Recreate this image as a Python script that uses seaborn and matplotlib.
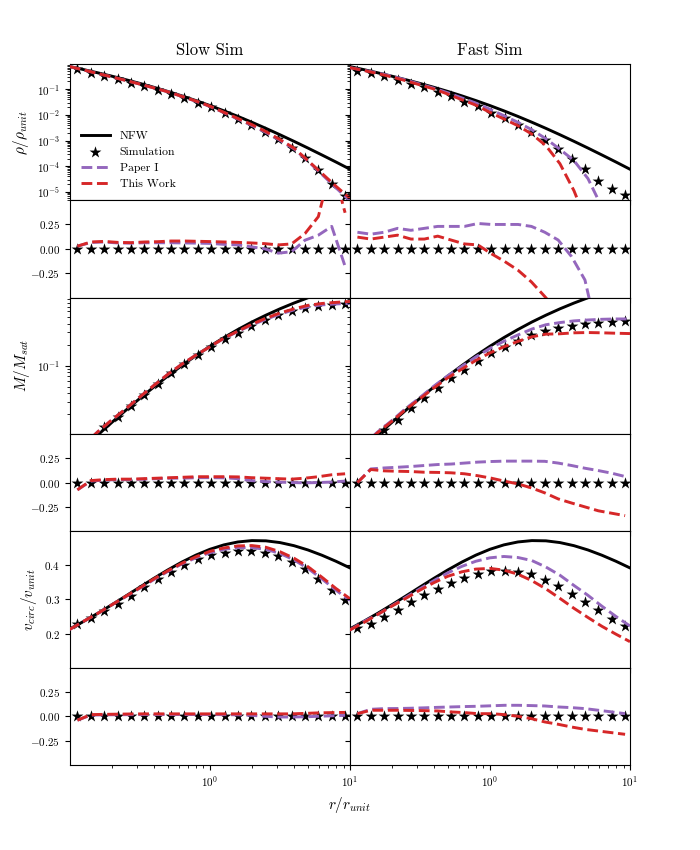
import numpy as np
import matplotlib
matplotlib.use("Agg")
import matplotlib.pyplot as plt
import seaborn as sns

plt.rcParams["font.family"] = "serif"
plt.rcParams["font.serif"] = ["cmr10"]
plt.rcParams["mathtext.fontset"] = "cm"
plt.rcParams["axes.formatter.use_mathtext"] = True

# radii: fine grid for the model curves, bin centres for the simulation
r_grid = [0.1, 0.1259, 0.1585, 0.1995, 0.2512, 0.3162, 0.3981, 0.5012, 0.631, 0.7943, 1.0,
          1.2589, 1.5849, 1.9953, 2.5119, 3.1623, 3.9811, 5.0119, 6.3096, 7.9433, 10.0]
r_sim = [0.1135, 0.1414, 0.1762, 0.2195, 0.2735, 0.3408, 0.4246, 0.5291, 0.6592, 0.8214, 1.0233,
         1.2752, 1.5888, 1.9797, 2.466, 3.0731, 3.8282, 4.7698, 5.9429, 7.4047, 9.2257]
sim_res = [0.0] * len(r_sim)

# NFW (same in both runs), log10 for rho and M
nfw_rho_log = [-0.117, -0.237, -0.361, -0.492, -0.629, -0.773, -0.925, -1.087, -1.259, -1.442, -1.636,
               -1.842, -2.059, -2.287, -2.525, -2.773, -3.029, -3.292, -3.562, -3.836, -4.117]
nfw_mass_log = [-2.366, -2.178, -1.996, -1.816, -1.641, -1.471, -1.307, -1.149, -0.999, -0.857, -0.723,
                -0.598, -0.482, -0.374, -0.276, -0.185, -0.102, -0.026, 0.043, 0.106, 0.164]
nfw_vcirc = [0.2133, 0.2357, 0.2593, 0.2842, 0.3099, 0.336, 0.3617, 0.3865, 0.4095, 0.4299, 0.447,
             0.46, 0.4686, 0.4726, 0.4719, 0.4668, 0.4577, 0.4451, 0.4296, 0.4119, 0.3924]

# ---- Slow Sim ----
slow_rho_sim = [-0.22, -0.35, -0.48, -0.61, -0.74, -0.87, -1.02, -1.17, -1.35, -1.52, -1.71,
                -1.94, -2.17, -2.40, -2.66, -2.95, -3.28, -3.67, -4.16, -4.71, -5.17]
slow_rho_paper1 = [-0.12, -0.25, -0.39, -0.52, -0.66, -0.80, -0.95, -1.10, -1.28, -1.47, -1.67,
                   -1.91, -2.16, -2.41, -2.68, -2.99, -3.32, -3.80, -4.32, -4.84, -5.35]
slow_rho_this = [-0.12, -0.25, -0.39, -0.52, -0.66, -0.80, -0.95, -1.10, -1.28, -1.46, -1.66,
                 -1.90, -2.14, -2.38, -2.65, -2.96, -3.29, -3.78, -4.28, -4.78, -5.25]
slow_rho_res_paper1 = [0.027, 0.065, 0.07, 0.06, 0.058, 0.062, 0.062, 0.062, 0.06, 0.058, 0.055,
                       0.045, 0.04, 0.02, 0.0, -0.045, -0.03, 0.088, 0.14, 0.23, -0.18]
slow_rho_res_this = [0.027, 0.07, 0.076, 0.066, 0.063, 0.07, 0.073, 0.08, 0.08, 0.077, 0.074,
                     0.07, 0.066, 0.06, 0.053, 0.04, 0.05, 0.156, 0.33, 0.88, 0.37]

slow_mass_sim = [-2.24, -2.06, -1.88, -1.74, -1.58, -1.42, -1.26, -1.11, -0.976, -0.852, -0.738,
                 -0.623, -0.527, -0.431, -0.350, -0.276, -0.215, -0.170, -0.142, -0.126, -0.116]
slow_mass_paper1 = [-2.35, -2.14, -1.95, -1.78, -1.62, -1.45, -1.285, -1.125, -0.98, -0.85, -0.73,
                    -0.61, -0.51, -0.415, -0.335, -0.26, -0.20, -0.155, -0.128, -0.115, -0.105]
slow_mass_this = [-2.35, -2.14, -1.95, -1.78, -1.62, -1.45, -1.285, -1.125, -0.98, -0.85, -0.73,
                  -0.605, -0.505, -0.405, -0.32, -0.245, -0.185, -0.135, -0.108, -0.092, -0.078]
slow_mass_res_paper1 = [-0.075, 0.015, 0.025, 0.03, 0.03, 0.035, 0.04, 0.045, 0.045, 0.05, 0.05,
                        0.048, 0.04, 0.02, 0.01, 0.005, 0.0, -0.003, 0.0, 0.005, 0.015]
slow_mass_res_this = [-0.075, 0.02, 0.03, 0.035, 0.035, 0.04, 0.045, 0.05, 0.055, 0.06, 0.06,
                      0.06, 0.058, 0.05, 0.045, 0.04, 0.035, 0.045, 0.06, 0.08, 0.09]

slow_v_sim = [0.227, 0.245, 0.265, 0.288, 0.310, 0.337, 0.359, 0.380, 0.400, 0.4175, 0.431,
              0.437, 0.442, 0.441, 0.436, 0.426, 0.41, 0.388, 0.359, 0.327, 0.298]
slow_v_paper1 = [0.212, 0.236, 0.259, 0.284, 0.308, 0.333, 0.358, 0.382, 0.404, 0.422, 0.437,
                 0.447, 0.452, 0.452, 0.447, 0.435, 0.416, 0.391, 0.360, 0.327, 0.297]
slow_v_this = [0.212, 0.236, 0.259, 0.284, 0.309, 0.334, 0.360, 0.384, 0.406, 0.425, 0.441,
               0.451, 0.457, 0.458, 0.453, 0.440, 0.421, 0.396, 0.365, 0.332, 0.302]
slow_v_res_paper1 = [-0.04, 0.012, 0.015, 0.016, 0.017, 0.018, 0.018, 0.018, 0.018, 0.018, 0.018,
                     0.017, 0.015, 0.01, 0.0, -0.007, -0.007, -0.005, 0.0, 0.005, 0.01]
slow_v_res_this = [-0.04, 0.017, 0.02, 0.022, 0.024, 0.025, 0.025, 0.025, 0.025, 0.025, 0.025,
                   0.025, 0.025, 0.025, 0.025, 0.025, 0.025, 0.03, 0.035, 0.038, 0.04]

# ---- Fast Sim ----
fast_rho_sim = [-0.28, -0.37, -0.50, -0.63, -0.78, -0.93, -1.09, -1.28, -1.48, -1.67, -1.91,
                -2.14, -2.39, -2.66, -2.98, -3.34, -3.73, -4.12, -4.58, -4.90, -5.13]
fast_rho_paper1 = [-0.16, -0.26, -0.37, -0.49, -0.64, -0.80, -0.96, -1.14, -1.34, -1.54, -1.78,
                   -2.03, -2.29, -2.58, -2.93, -3.34, -3.78, -4.48, -5.6, -7.0, -8.5]
fast_rho_this = [-0.16, -0.27, -0.39, -0.52, -0.67, -0.83, -0.99, -1.19, -1.41, -1.62, -1.90,
                 -2.16, -2.42, -2.75, -3.20, -3.90, -4.95, -6.3, -7.5, -9.0, -10.0]
fast_rho_res_paper1 = [0.17, 0.15, 0.17, 0.21, 0.19, 0.21, 0.23, 0.23, 0.23, 0.26, 0.25,
                       0.25, 0.25, 0.23, 0.17, 0.09, -0.08, -0.32, -0.92, -0.99, -1.0]
fast_rho_res_this = [0.12, 0.10, 0.12, 0.14, 0.10, 0.10, 0.13, 0.09, 0.05, 0.04, -0.05,
                     -0.13, -0.22, -0.34, -0.49, -0.65, -0.80, -0.92, -0.98, -1.0, -1.0]

fast_mass_sim = [-2.28, -2.10, -1.924, -1.781, -1.614, -1.470, -1.327, -1.184, -1.064, -0.936, -0.825,
                 -0.731, -0.645, -0.563, -0.501, -0.467, -0.434, -0.405, -0.381, -0.373, -0.362]
fast_mass_paper1 = [-2.32, -2.135, -1.95, -1.79, -1.615, -1.46, -1.295, -1.145, -1.01, -0.875, -0.753,
                    -0.651, -0.560, -0.475, -0.413, -0.382, -0.358, -0.345, -0.335, -0.33, -0.33]
fast_mass_this = [-2.33, -2.145, -1.96, -1.80, -1.628, -1.477, -1.32, -1.175, -1.05, -0.925, -0.818,
                  -0.73, -0.652, -0.586, -0.548, -0.543, -0.529, -0.525, -0.529, -0.535, -0.54]
fast_mass_res_paper1 = [0.0, 0.14, 0.15, 0.157, 0.165, 0.175, 0.185, 0.19, 0.2, 0.21, 0.216,
                        0.22, 0.22, 0.22, 0.218, 0.2, 0.175, 0.147, 0.123, 0.096, 0.062]
fast_mass_res_this = [0.0, 0.134, 0.12, 0.116, 0.113, 0.106, 0.104, 0.10, 0.09, 0.07, 0.045,
                      0.014, -0.014, -0.055, -0.106, -0.168, -0.21, -0.25, -0.29, -0.315, -0.34]

fast_v_sim = [0.215, 0.2275, 0.249, 0.270, 0.293, 0.312, 0.332, 0.349, 0.364, 0.376, 0.3825,
              0.383, 0.380, 0.374, 0.358, 0.340, 0.317, 0.293, 0.268, 0.244, 0.222]
fast_v_paper1 = [0.210, 0.235, 0.256, 0.281, 0.306, 0.331, 0.355, 0.378, 0.397, 0.412, 0.422,
                 0.426, 0.423, 0.414, 0.395, 0.371, 0.341, 0.312, 0.280, 0.250, 0.222]
fast_v_this = [0.210, 0.232, 0.256, 0.280, 0.303, 0.327, 0.349, 0.368, 0.381, 0.389, 0.391,
               0.386, 0.374, 0.355, 0.331, 0.303, 0.274, 0.247, 0.221, 0.198, 0.176]
fast_v_res_paper1 = [0.027, 0.072, 0.079, 0.08, 0.083, 0.087, 0.092, 0.096, 0.1, 0.103, 0.108,
                     0.113, 0.113, 0.11, 0.106, 0.096, 0.089, 0.079, 0.062, 0.045, 0.027]
fast_v_res_this = [0.027, 0.062, 0.062, 0.062, 0.06, 0.058, 0.055, 0.045, 0.038, 0.027, 0.027,
                   0.017, 0.0, -0.024, -0.058, -0.082, -0.11, -0.134, -0.151, -0.168, -0.185]

PURPLE = "#9467bd"
RED = "#d62728"
LW = 2.1
STAR = 80


def draw(ax, nfw, sim, paper1, this, r_model):
    sns.lineplot(x=r_model, y=nfw, ax=ax, color="black", lw=LW, label="NFW",
                 estimator=None, legend=False)
    sns.scatterplot(x=r_sim, y=sim, ax=ax, marker="*", s=STAR, color="black",
                    linewidth=0, label="Simulation", legend=False, zorder=3)
    sns.lineplot(x=r_model, y=paper1, ax=ax, color=PURPLE, lw=LW, ls="--",
                 label="Paper I", estimator=None, legend=False, zorder=4)
    sns.lineplot(x=r_model, y=this, ax=ax, color=RED, lw=LW, ls="--",
                 label="This Work", estimator=None, legend=False, zorder=5)


def draw_res(ax, res_paper1, res_this):
    sns.scatterplot(x=r_sim, y=sim_res, ax=ax, marker="*", s=STAR, color="black",
                    linewidth=0, legend=False, zorder=3)
    sns.lineplot(x=r_sim, y=res_paper1, ax=ax, color=PURPLE, lw=LW, ls="--",
                 estimator=None, legend=False, zorder=4)
    sns.lineplot(x=r_sim, y=res_this, ax=ax, color=RED, lw=LW, ls="--",
                 estimator=None, legend=False, zorder=5)


fig = plt.figure(figsize=(7, 8.5))
gs = fig.add_gridspec(6, 2, height_ratios=[1.4, 1, 1.4, 1, 1.4, 1],
                      hspace=0, wspace=0, left=0.1, right=0.9, top=0.925, bottom=0.1)

axes = np.empty((6, 2), dtype=object)
for row in range(6):
    for col in range(2):
        kw = {}
        if row > 0 or col > 0:
            kw["sharex"] = axes[0, 0]
        if col == 1:
            kw["sharey"] = axes[row, 0]
        ax = fig.add_subplot(gs[row, col], **kw)
        ax.set_xscale("log")
        axes[row, col] = ax

runs = [
    (slow_rho_sim, slow_rho_paper1, slow_rho_this, slow_rho_res_paper1, slow_rho_res_this,
     slow_mass_sim, slow_mass_paper1, slow_mass_this, slow_mass_res_paper1, slow_mass_res_this,
     slow_v_sim, slow_v_paper1, slow_v_this, slow_v_res_paper1, slow_v_res_this),
    (fast_rho_sim, fast_rho_paper1, fast_rho_this, fast_rho_res_paper1, fast_rho_res_this,
     fast_mass_sim, fast_mass_paper1, fast_mass_this, fast_mass_res_paper1, fast_mass_res_this,
     fast_v_sim, fast_v_paper1, fast_v_this, fast_v_res_paper1, fast_v_res_this),
]

for col, d in enumerate(runs):
    # density
    ax = axes[0, col]
    ax.set_yscale("log")
    draw(ax, 10 ** np.array(nfw_rho_log), 10 ** np.array(d[0]),
         10 ** np.array(d[1]), 10 ** np.array(d[2]), r_grid)
    draw_res(axes[1, col], d[3], d[4])
    # mass
    ax = axes[2, col]
    ax.set_yscale("log")
    draw(ax, 10 ** np.array(nfw_mass_log), 10 ** np.array(d[5]),
         10 ** np.array(d[6]), 10 ** np.array(d[7]), r_grid)
    draw_res(axes[3, col], d[8], d[9])
    # circular velocity
    draw(axes[4, col], nfw_vcirc, d[10], d[11], d[12], r_grid)
    draw_res(axes[5, col], d[13], d[14])

axes[0, 0].set_xlim(0.1005, 10)
axes[0, 0].set_ylim(4.8e-6, 0.98)
axes[2, 0].set_ylim(0.0105, 0.95)
axes[4, 0].set_ylim(0.1, 0.5)
axes[4, 0].set_yticks([0.2, 0.3, 0.4])
for row in (1, 3, 5):
    axes[row, 0].set_ylim(-0.5, 0.5)
    axes[row, 0].set_yticks([-0.25, 0.0, 0.25])

for ax in axes.flat:
    ax.set_xlabel("")
    ax.set_ylabel("")
    ax.tick_params(labelsize=8)
for row in range(5):
    for col in range(2):
        axes[row, col].tick_params(labelbottom=False)
for row in range(6):
    axes[row, 1].tick_params(labelleft=False)

axes[0, 0].set_title("Slow Sim", fontsize=12)
axes[0, 1].set_title("Fast Sim", fontsize=12)
axes[0, 0].set_ylabel(r"$\rho/\rho_{unit}$", fontsize=11)
axes[2, 0].set_ylabel(r"$M/M_{sat}$", fontsize=11)
axes[4, 0].set_ylabel(r"$v_{circ}/v_{unit}$", fontsize=11)
fig.text(0.5, 0.048, r"$r/r_{unit}$", ha="center", fontsize=11)

axes[0, 0].legend(loc="lower left", frameon=False, fontsize=8.5, handlelength=2.5)

plt.savefig("out.png", dpi=100)
plt.close()
